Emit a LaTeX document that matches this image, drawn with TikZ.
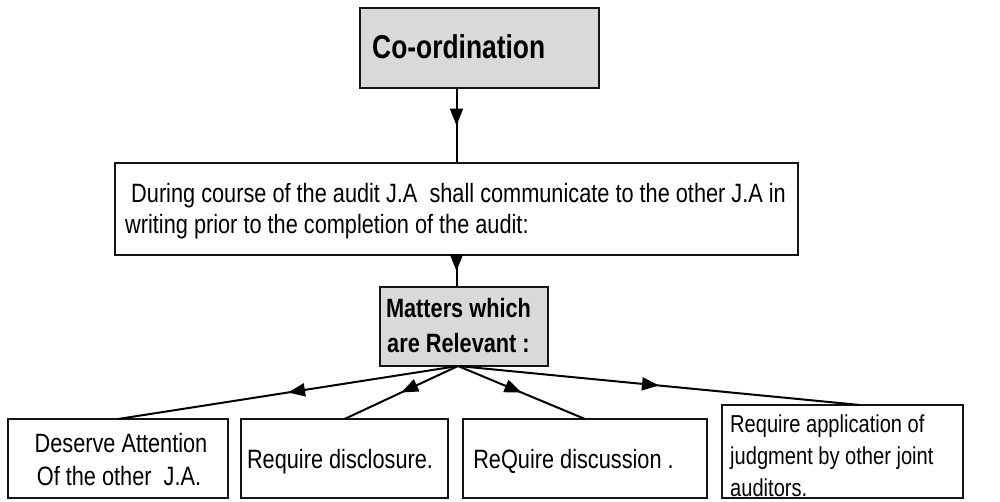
\documentclass[tikz,border=0pt]{standalone}
\usepackage{fontspec}
\setmainfont{Liberation Sans}[FakeStretch=0.82]
\usetikzlibrary{arrows.meta,decorations.markings,calc}

\definecolor{boxgray}{RGB}{217,217,217}
\definecolor{edge}{RGB}{20,20,20}

\tikzset{
  box/.style={draw=edge, line width=1.8pt, rectangle, inner sep=0pt, outer sep=0pt},
  graybox/.style={box, fill=boxgray},
  txt/.style={anchor=base west, inner sep=0pt, font=\fontsize{26.5}{31}\selectfont},
  flow/.style={draw=black, line width=2pt, postaction={decorate},
    decoration={markings, mark=at position 0.5 with {\arrow{Triangle[length=17pt,width=13pt]}}}}
}

\begin{document}
\begin{tikzpicture}[x=1pt,y=-1pt]
\useasboundingbox (0,0) rectangle (1000,501);

% boxes
\node[graybox, minimum width=239pt, minimum height=80pt] (coord) at (479.5,48) {};
\node[box, minimum width=683pt, minimum height=92pt] (mid) at (456.5,209) {};
\node[graybox, minimum width=168pt, minimum height=79pt] (matters) at (464,326.5) {};
\node[box, minimum width=220pt, minimum height=79pt] (b1) at (118,458.5) {};
\node[box, minimum width=207pt, minimum height=79pt] (b2) at (344.5,458.5) {};
\node[box, minimum width=244pt, minimum height=79pt] (b3) at (585,458.5) {};
\node[box, minimum width=241pt, minimum height=93pt] (b4) at (842.5,451.5) {};

% texts
\node[txt, font=\fontsize{33}{36}\selectfont\bfseries\addfontfeatures{FakeStretch=0.8}] (tcoord) at (372,58) {Co-ordination};
\node[txt] (tmid1) at (125,202) {\ During course of the audit J.A \ shall communicate to the other J.A in};
\node[txt] (tmid2) at (125,233) {writing prior to the completion of the audit:};
\node[txt, anchor=base, font=\fontsize{26.5}{30}\selectfont\bfseries] (tm1) at (458.5,317) {Matters which};
\node[txt, anchor=base, font=\fontsize{26.5}{30}\selectfont\bfseries] (tm2) at (458.5,352) {are Relevant :};
\node[txt, anchor=base] (tb1a) at (121,452) {Deserve Attention};
\node[txt, anchor=base] (tb1b) at (119,485) {Of the other \ J.A.};
\node[txt, anchor=base] (tb2) at (340,468) {Require disclosure.};
\node[txt, anchor=base] (tb3) at (573.5,468) {ReQuire discussion .};
\node[txt, font=\fontsize{24.5}{31}\selectfont] (tb4a) at (730,432) {Require application of};
\node[txt, font=\fontsize{24.5}{31}\selectfont] (tb4b) at (730,464) {judgment by other joint};
\node[txt, font=\fontsize{24.5}{31}\selectfont] (tb4c) at (730,496) {auditors.};

% connectors
\coordinate (hub) at (458,366);
\draw[flow] (mid.north |- coord.south) -- (mid.north);
\draw[flow] (mid.south) -- (mid.south |- matters.north);
\draw[flow] (hub) -- (b1.north);
\draw[flow] (hub) -- (b2.north);
\draw[flow] (hub) -- (b3.north);
\draw[flow] (hub) -- ($(b4.north west)+(138,0)$);
\end{tikzpicture}
\end{document}
